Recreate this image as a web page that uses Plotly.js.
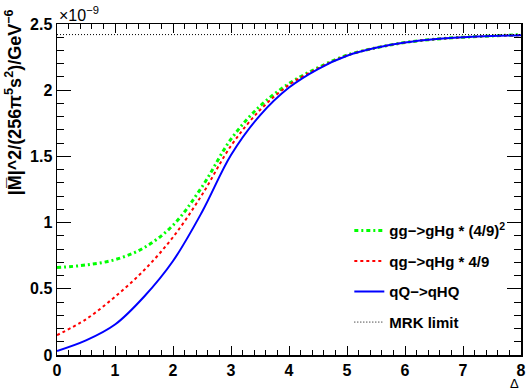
<!DOCTYPE html>
<html><head><meta charset="utf-8">
<script src="https://cdn.plot.ly/plotly-3.0.1.min.js"></script>
<style>html,body{margin:0;padding:0;background:#fff}#chart{width:526px;height:390px}</style>
</head><body><div id="chart"></div>
<script>
// Values in units of 1e-9 GeV^-6
const delta = [0, 0.5, 1, 1.5, 2, 2.5, 3, 3.5, 4, 4.5, 5, 5.5, 6, 6.5, 7, 7.5, 8];
const ggHg = [0.66, 0.68, 0.72, 0.81, 0.98, 1.27, 1.63, 1.88, 2.05, 2.17, 2.265, 2.32, 2.36, 2.385, 2.40, 2.41, 2.42];
const qgHg = [0.15, 0.27, 0.44, 0.64, 0.89, 1.21, 1.58, 1.85, 2.04, 2.165, 2.262, 2.32, 2.36, 2.385, 2.40, 2.41, 2.415];
const qQHQ = [0.03, 0.11, 0.23, 0.44, 0.71, 1.08, 1.51, 1.81, 2.02, 2.16, 2.26, 2.32, 2.36, 2.385, 2.40, 2.41, 2.415];
const mrkX = [0, 8];
const mrkY = [2.42, 2.42];
const names = ['gg\u2212>gHg * (4/9)<sup>2</sup>', 'qg\u2212>qHg * 4/9', 'qQ\u2212>qHQ', 'MRK limit'];

const FAM = 'Liberation Sans, Arial, sans-serif';
const bold = {family: FAM, size: 16, color: '#000', weight: 'bold'};
const traces = [
  {x: delta, y: ggHg, name: names[0], legendgroup: 'a', mode: 'lines', line: {color: '#00ff00', width: 3, dash: '4px,3px,2px,3px', shape: 'spline', smoothing: 1}},
  {x: delta, y: qgHg, name: names[1], legendgroup: 'b', mode: 'lines', line: {color: '#ff0000', width: 2, dash: '3px,3px', shape: 'spline', smoothing: 1}},
  {x: delta, y: qQHQ, name: names[2], legendgroup: 'c', mode: 'lines', line: {color: '#0000ff', width: 2, shape: 'spline', smoothing: 1}},
  {x: mrkX, y: mrkY, name: names[3], legendgroup: 'd', mode: 'lines', line: {color: '#000', width: 1, dash: '1px,2px'}}
];
const layout = {
  width: 526, height: 390,
  margin: {l: 57, r: 5, t: 24, b: 35},
  paper_bgcolor: '#fff', plot_bgcolor: '#fff',
  showlegend: true,
  legend: {x: 0.63, y: 0.425, xanchor: 'left', yanchor: 'top', bgcolor: 'rgba(0,0,0,0)', font: {family: FAM, size: 15, color: '#000', weight: 'bold'}, tracegroupgap: 8, itemwidth: 30},
  xaxis: {range: [0, 8], tick0: 0, dtick: 1, ticks: 'inside', ticklen: 9, tickwidth: 1, tickcolor: '#000',
          showline: true, linecolor: '#000', linewidth: 1.5, mirror: 'allticks', showgrid: false, zeroline: false,
          tickfont: bold, minor: {dtick: 0.2, ticks: 'inside', ticklen: 5, tickwidth: 1, tickcolor: '#000', showgrid: false}},
  yaxis: {range: [0, 2.5], tick0: 0, dtick: 0.5, ticks: 'inside', ticklen: 14, tickwidth: 1, tickcolor: '#000',
          showline: true, linecolor: '#000', linewidth: 1.5, mirror: 'allticks', showgrid: false, zeroline: false,
          tickfont: bold, minor: {dtick: 0.1, ticks: 'inside', ticklen: 7, tickwidth: 1, tickcolor: '#000', showgrid: false}},
  annotations: [
    {text: '|M\u0305|^2/(256\u03c0<sup>5</sup>s<sup>2</sup>)/GeV<sup>\u22126</sup>', textangle: -90, xref: 'paper', yref: 'paper',
     x: -0.093, y: 1.05, xanchor: 'center', yanchor: 'top', showarrow: false, font: {family: FAM, size: 18, color: '#000', weight: 'bold'}},
    {text: '\u00d710<sup>\u22129</sup>', xref: 'paper', yref: 'paper', x: 0, y: 0.995, xanchor: 'left', yanchor: 'bottom', showarrow: false,
     font: {family: FAM, size: 16, color: '#000'}},
    {text: '\u0394', xref: 'paper', yref: 'paper', x: 0.985, y: -0.087, xanchor: 'center', yanchor: 'middle', showarrow: false,
     borderpad: 0, font: {family: FAM, size: 13, color: '#000'}}
  ]
};
Plotly.newPlot('chart', traces, layout, {staticPlot: true});
</script></body></html>
